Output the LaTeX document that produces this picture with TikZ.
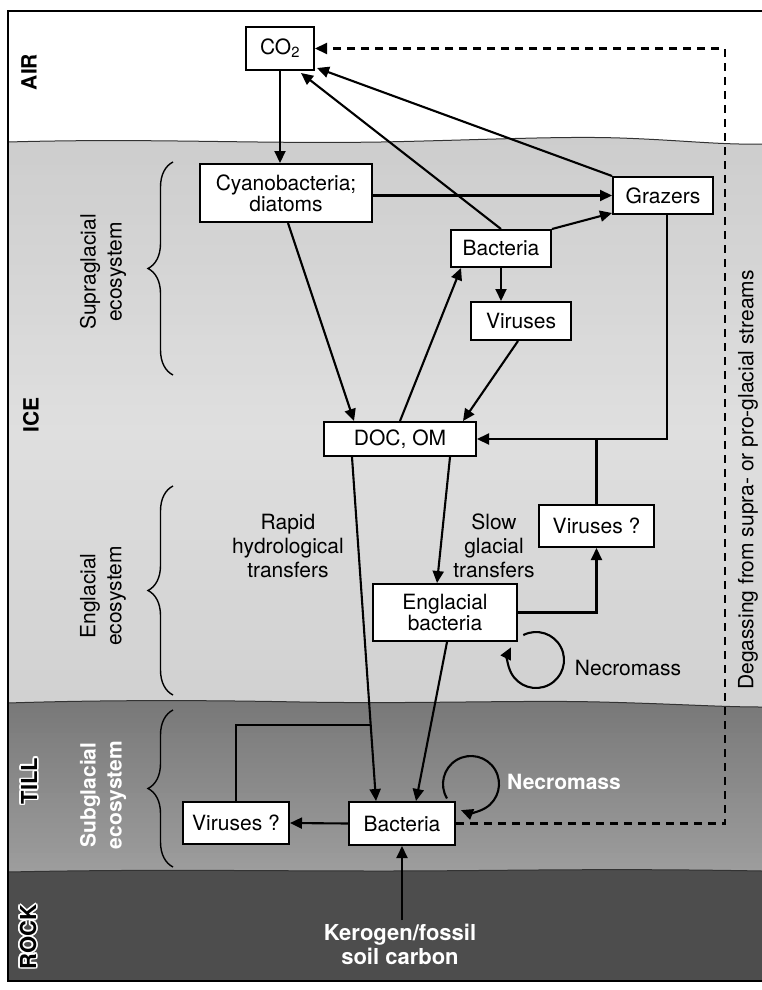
\documentclass[tikz,border=0pt]{standalone}
\usepackage{fontspec}
\setmainfont{TeX Gyre Heros}
\usetikzlibrary{arrows.meta, calc, decorations.pathreplacing}
\definecolor{icetop}{HTML}{CDCDCD}
\definecolor{icemid}{HTML}{DFDFDF}
\definecolor{icebot}{HTML}{D0D0D0}
\definecolor{tilltop}{HTML}{787878}
\definecolor{tillbot}{HTML}{9E9E9E}
\definecolor{rockgray}{HTML}{4D4D4D}

\begin{document}
\begin{tikzpicture}[x=1pt, y=-1pt,
    every node/.style={font=\fontsize{21}{21}\selectfont},
    box/.style={draw, line width=2pt, fill=white, align=center, inner sep=1pt},
    link/.style={line width=2.1pt, -{Triangle[length=12pt, width=11pt]}},
    plain/.style={line width=2.1pt},
    degasline/.style={line width=2.1pt, dash pattern=on 8pt off 6pt, -{Triangle[length=12pt, width=11pt]}},
    zone/.style={font=\bfseries\fontsize{21}{21}\selectfont, rotate=90},
    rim/.style={font=\bfseries\fontsize{22}{22}\selectfont, rotate=90},
    eco/.style={font=\fontsize{21}{26}\selectfont, rotate=90, align=center},
    note/.style={align=center, font=\fontsize{21}{24}\selectfont},
    curly/.style={decorate, decoration={brace, amplitude=25pt}, line width=1.4pt},
    seam/.style={draw=black!80, line width=1pt}]
\useasboundingbox (0,0) rectangle (762,990);

% ground layers
\begin{scope}
  \clip (8,142) .. controls (150,138) and (250,144) .. (381,142)
    .. controls (480,140) and (560,136) .. (620,138)
    .. controls (680,140) and (720,145) .. (762,144) -- (762,712) -- (8,712) -- cycle;
  \foreach \i in {0,...,29} {
    \pgfmathsetmacro\pct{100-\i*100/29}
    \fill[icetop!\pct!icemid] (8,135+10*\i) rectangle (762,146+10*\i);
  }
  \foreach \i in {0,...,28} {
    \pgfmathsetmacro\pct{100-\i*100/28}
    \fill[icemid!\pct!icebot] (8,430+10*\i) rectangle (762,441+10*\i);
  }
\end{scope}
\begin{scope}
  \clip (8,703) .. controls (100,700) and (200,700) .. (300,702)
    .. controls (420,704) and (520,700) .. (600,702)
    .. controls (680,704) and (720,707) .. (762,707) -- (762,876) -- (8,876) -- cycle;
  \foreach \i in {0,...,35} {
    \pgfmathsetmacro\pct{100-\i*100/35}
    \fill[tilltop!\pct!tillbot] (8,698+5*\i) rectangle (762,704+5*\i);
  }
\end{scope}
\fill[rockgray]
  (8,872) .. controls (150,869) and (250,871) .. (381,871)
  .. controls (500,871) and (600,868) .. (762,871) -- (762,981) -- (8,981) -- cycle;
\draw[seam] (8,142) .. controls (150,138) and (250,144) .. (381,142)
  .. controls (480,140) and (560,136) .. (620,138)
  .. controls (680,140) and (720,145) .. (762,144);
\draw[seam] (8,703) .. controls (100,700) and (200,700) .. (300,702)
  .. controls (420,704) and (520,700) .. (600,702)
  .. controls (680,704) and (720,707) .. (762,707);
\draw[seam] (8,872) .. controls (150,869) and (250,871) .. (381,871)
  .. controls (500,871) and (600,868) .. (762,871);
\draw[line width=2.5pt] (762,11) -- (8,11) -- (8,981) -- (762,981);

% zone names
\node[zone] (air) at (29,72) {AIR};
\node[zone] (ice) at (31,415) {ICE};
\foreach \a in {0,30,...,330} {
  \node[rim, text=white] (tillhalo\a) at ($(29,781)+(\a:1.6)$) {TILL};
  \node[rim, text=white] (rockhalo\a) at ($(28,937)+(\a:1.6)$) {ROCK};
}
\node[rim] (till) at (29,781) {TILL};
\node[rim] (rock) at (28,937) {ROCK};

% ecosystems
\draw[curly] (173,375) -- (173,162);
\draw[curly] (173,695) -- (173,486);
\draw[curly] (173,867) -- (173,710);
\node[eco] (supra) at (103,272) {Supraglacial\\ecosystem};
\node[eco] (engla) at (103,596) {Englacial\\ecosystem};
\node[eco, text=white, font=\bfseries\fontsize{21}{26}\selectfont] (subgla) at (103,795) {Subglacial\\ecosystem};

% boxes
\node[box, minimum width=68, minimum height=43] (co2) at (280,48.5) {CO\textsubscript{2}};
\node[box, minimum width=172, minimum height=58] (cyano) at (286,193) {Cyanobacteria;\\diatoms};
\node[box, minimum width=100, minimum height=37] (grazers) at (663,195.5) {Grazers};
\node[box, minimum width=100, minimum height=37] (bactup) at (501,248.5) {Bacteria};
\node[box, minimum width=100, minimum height=38] (virup) at (521,321) {Viruses};
\node[box, minimum width=152, minimum height=34] (doc) at (400,439) {DOC, OM};
\node[box, minimum width=115, minimum height=42] (virgla) at (596.5,526) {Viruses ?};
\node[box, minimum width=144, minimum height=57] (bactgla) at (445,612.5) {Englacial\\bacteria};
\node[box, minimum width=106, minimum height=43] (bactsub) at (402,823.5) {Bacteria};
\node[box, minimum width=106, minimum height=42] (virsub) at (236,823) {Viruses ?};
\node[align=center, text=white, font=\bfseries\fontsize{22}{24}\selectfont] (kerogen) at (400,944) {Kerogen/fossil\\soil carbon};

% labels
\node[note] (rapid) at (288,546) {Rapid\\hydrological\\transfers};
\node[note] (slow) at (494,546) {Slow\\glacial\\transfers};
\node (necgla) at (628,668) {Necromass};
\node[text=white, font=\bfseries\fontsize{21}{21}\selectfont] (necsub) at (564,782) {Necromass};
\node[rotate=90] (degas) at (748,480) {Degassing from supra- or pro-glacial streams};

% fluxes
\draw[link] (co2.south) -- (co2.south |- cyano.north);
\draw[link] (cyano.east |- grazers.west) -- (grazers.west);
\draw[link] (grazers.north west) -- ($(co2.south east)+(2,-3)$);
\draw[link] (bactup.north) -- ($(co2.south east)+(-14,2)$);
\draw[link] (bactup.north east) -- ($(grazers.south west)+(0,-2)$);
\draw[link] (bactup.south) -- (bactup.south |- virup.north);
\draw[link] ($(cyano.south)+(2,0)$) -- ($(doc.north west)+(31,0)$);
\draw[link] (doc.north) -- ($(bactup.south west)+(11,0)$);
\draw[link] ($(virup.south)+(-3,0)$) -- ($(doc.north east)+(-14,0)$);
\draw[link] ($(grazers.south)+(4,0)$) |- (doc.east);
\draw[plain] (virgla.north) -- (virgla.north |- doc.east);
\draw[link] ($(doc.south)+(50,0)$) -- ($(bactgla.north)+(-8,0)$);
\draw[link] (bactgla.east) -| (virgla.south);
\draw[link] ($(doc.south west)+(29,0)$) -- coordinate[pos=0.78] (jsub) ($(bactsub.north west)+(28,0)$);
\draw[link] ($(bactgla.south)+(2,0)$) -- ($(bactsub.north)+(14,0)$);
\draw[link] (bactsub.west) -- (virsub.east);
\draw[plain] (virsub.north) |- (jsub);
\draw[link] (bactsub.south |- kerogen.north) -- (bactsub.south);

% necromass loops
\coordinate (loopgla) at (536,660);
\coordinate (loopsub) at (471,784);
\draw[link] ($(loopgla)+(-117:28)$) arc[start angle=-117, end angle=207, radius=28];
\draw[link] ($(loopsub)+(-211:28)$) arc[start angle=-211, end angle=111, radius=28];

% degassing
\coordinate (degasturn) at (725,823.5);
\draw[degasline] (bactsub.east) -- (bactsub.east -| degasturn) |- (co2.east);
\end{tikzpicture}
\end{document}
